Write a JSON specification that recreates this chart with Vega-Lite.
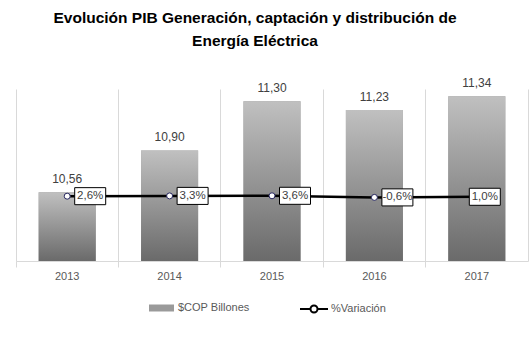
{
  "$schema": "https://vega.github.io/schema/vega-lite/v6.json",
  "width": 512,
  "height": 172,
  "autosize": {"type": "none"},
  "padding": {"left": 16, "top": 89, "right": 2, "bottom": 89},
  "background": "white",
  "title": {
    "text": ["Evolución PIB Generación, captación y distribución de", "Energía Eléctrica"],
    "font": "Liberation Sans",
    "fontSize": 15.5,
    "fontWeight": "bold",
    "color": "#000000",
    "anchor": "middle",
    "lineHeight": 23,
    "offset": 28,
    "dx": -17
  },
  "data": {
    "values": [
      {"year": "2013", "cop": 10.56, "var": 0.026},
      {"year": "2014", "cop": 10.90, "var": 0.033},
      {"year": "2015", "cop": 11.30, "var": 0.036},
      {"year": "2016", "cop": 11.23, "var": -0.006},
      {"year": "2017", "cop": 11.34, "var": 0.010}
    ]
  },
  "encoding": {
    "x": {
      "field": "year",
      "type": "nominal",
      "scale": {"paddingInner": 0, "paddingOuter": 0},
      "axis": {
        "title": null,
        "labelAngle": 0,
        "grid": true,
        "gridColor": "#d9d9d9",
        "bandPosition": 0,
        "ticks": true,
        "tickColor": "#d9d9d9",
        "tickSize": 6,
        "domainColor": "#d9d9d9",
        "labelColor": "#595959",
        "labelFont": "Liberation Sans",
        "labelFontSize": 11,
        "labelPadding": 3
      }
    }
  },
  "layer": [
    {
      "encoding": {
        "y": {
          "field": "cop",
          "type": "quantitative",
          "scale": {"domain": [10, 11.4], "zero": false, "nice": false},
          "axis": null
        }
      },
      "layer": [
        {
          "mark": {"type": "bar", "width": {"band": 0.557}},
          "encoding": {
            "y2": {"datum": 10},
            "fill": {
              "datum": "$COP Billones",
              "type": "nominal",
              "scale": {"range": ["#9a9a9a"]},
              "legend": {
                "title": null,
                "orient": "none",
                "legendX": 133,
                "legendY": 206.5,
                "padding": 0,
                "symbolType": "M-1,-0.28H1V0.28H-1Z",
                "symbolSize": 625,
                "symbolStrokeWidth": 0,
                "labelFont": "Liberation Sans",
                "labelFontSize": 11,
                "labelColor": "#595959",
                "labelOffset": 4
              }
            }
          }
        },
        {
          "mark": {"type": "bar", "width": {"band": 0.557}, "fill": {"gradient": "linear", "x1": 0, "y1": 0, "x2": 0, "y2": 1, "stops": [{"offset": 0, "color": "#c0c0c0"}, {"offset": 1, "color": "#6a6a6a"}]}},
          "encoding": {"y2": {"datum": 10}}
        },
        {
          "mark": {"type": "text", "baseline": "alphabetic", "dy": -9, "font": "Liberation Sans", "fontSize": 12, "color": "#404040"},
          "encoding": {
            "text": {"field": "cop", "type": "quantitative", "format": ".2f"}
          }
        }
      ]
    },
    {
      "encoding": {
        "y": {
          "field": "var",
          "type": "quantitative",
          "scale": {"domain": [-1.67, 2.83], "zero": false, "nice": false},
          "axis": {"orient": "right", "labels": false, "ticks": false, "grid": false, "title": null, "domainColor": "#d9d9d9"}
        }
      },
      "layer": [
        {
          "mark": {"type": "line", "strokeWidth": 2.5},
          "encoding": {
            "stroke": {
              "datum": "%Variación",
              "type": "nominal",
              "scale": {"range": ["#000000"]},
              "legend": {
                "title": null,
                "orient": "none",
                "legendX": 283,
                "legendY": 205,
                "padding": 0,
                "symbolType": "M-1,0H-0.25M0.25,0H1M0.25,0A0.25,0.25 0 1 1 -0.25,0A0.25,0.25 0 1 1 0.25,0Z",
                "symbolSize": 784,
                "symbolStrokeWidth": 2,
                "symbolFillColor": "white",
                "labelFont": "Liberation Sans",
                "labelFontSize": 11,
                "labelColor": "#595959",
                "labelOffset": 2
              }
            }
          }
        },
        {
          "mark": {"type": "point", "filled": true, "fill": "white", "stroke": "#262660", "strokeWidth": 1, "size": 36, "opacity": 1}
        },
        {
          "transform": [{"filter": "datum.year != '2017'"}],
          "layer": [
            {
              "mark": {"type": "point", "shape": "M-1,-0.55H1V0.55H-1Z", "size": 961, "filled": true, "fill": "white", "stroke": "#000000", "strokeWidth": 1, "opacity": 1, "xOffset": 23}
            },
            {
              "mark": {"type": "text", "baseline": "middle", "dx": 23, "font": "Liberation Sans", "fontSize": 11.5, "color": "#404040"},
              "encoding": {"text": {"field": "var", "type": "quantitative", "format": ".1%"}}
            }
          ]
        },
        {
          "transform": [{"filter": "datum.year == '2017'"}],
          "layer": [
            {
              "mark": {"type": "point", "shape": "M-1,-0.55H1V0.55H-1Z", "size": 961, "filled": true, "fill": "white", "stroke": "#000000", "strokeWidth": 1, "opacity": 1, "xOffset": 8}
            },
            {
              "mark": {"type": "text", "baseline": "middle", "dx": 8, "font": "Liberation Sans", "fontSize": 11.5, "color": "#404040"},
              "encoding": {"text": {"field": "var", "type": "quantitative", "format": ".1%"}}
            }
          ]
        }
      ]
    }
  ],
  "resolve": {"scale": {"y": "independent"}},
  "config": {
    "view": {"stroke": null},
    "locale": {
      "number": {"decimal": ",", "thousands": ".", "grouping": [3], "currency": ["$", ""], "minus": "-"}
    }
  }
}
